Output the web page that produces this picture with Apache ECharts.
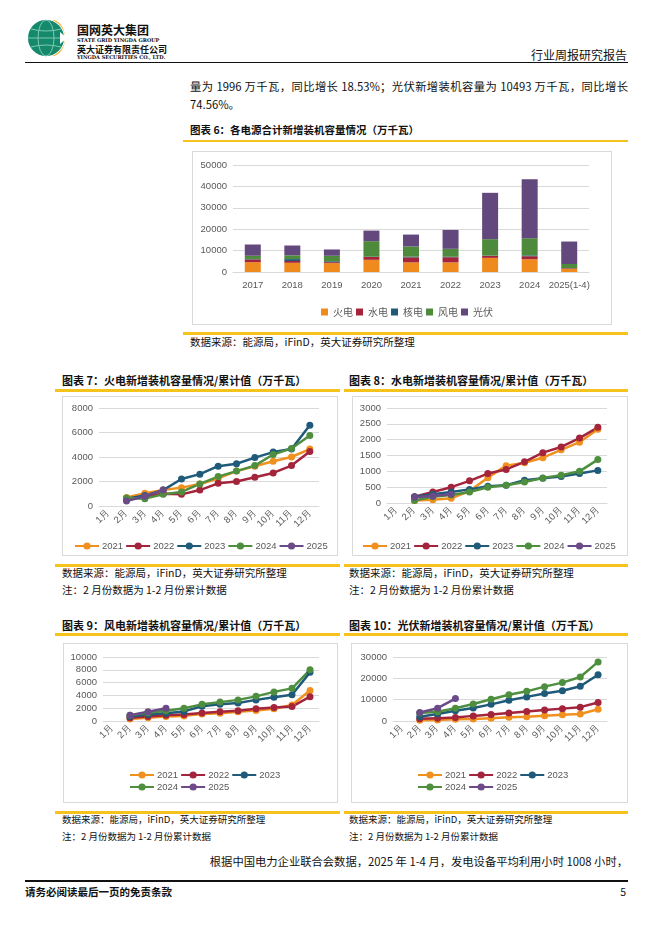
<!DOCTYPE html>
<html><head><meta charset="utf-8">
<script src="https://cdn.jsdelivr.net/npm/echarts@6/dist/echarts.min.js"></script>
<style>
body{margin:0;width:662px;height:936px;position:relative;background:#fff;font-family:"Noto Sans CJK SC",sans-serif;color:#111;overflow:hidden}
.a{position:absolute;white-space:nowrap;line-height:1}
.b{font-weight:bold}
.yl{position:absolute;height:2.5px;background:#F6C21C}
.box{position:absolute;border:1px solid #d9d9d9;box-sizing:border-box}
</style></head><body>

<svg class="a" style="left:26px;top:17px" width="46" height="42" viewBox="0 0 46 42">
 <path d="M26 3 A19 19 0 0 1 26 39 A13 18 0 0 0 26 3Z" fill="#F5A81F"/>
 <circle cx="20" cy="21" r="18" fill="#14896c"/>
 <ellipse cx="20" cy="21" rx="8" ry="18" fill="none" stroke="#7fc9b2" stroke-width="1"/>
 <line x1="2" y1="21" x2="38" y2="21" stroke="#7fc9b2" stroke-width="1"/>
 <path d="M5 12 Q20 16 35 12 M5 30 Q20 26 35 30" fill="none" stroke="#7fc9b2" stroke-width="1"/>
 <path d="M34 15 l7 6 l-7 6z" fill="#fff"/>
</svg>
<div class="a b" style="left:77px;top:24px;font-size:12px">国网英大集团</div>
<div class="a b" style="left:77px;top:37.5px;font-size:5px;font-family:'DejaVu Serif',serif">STATE GRID YINGDA GROUP</div>
<div class="a b" style="left:77px;top:44.5px;font-size:9px">英大证券有限责任公司</div>
<div class="a b" style="left:77px;top:54.5px;font-size:5px;font-family:'DejaVu Serif',serif">YINGDA SECURITIES CO., LTD.</div>
<div class="a" style="right:35px;top:49px;font-size:12px">行业周报研究报告</div>
<div class="a" style="left:25px;top:61.5px;width:603px;height:1.5px;background:#111"></div>

<div class="a" style="left:190px;top:81px;width:438px;font-size:11.3px;text-align:justify;text-align-last:justify;white-space:normal">量为 1996 万千瓦，同比增长 18.53%；光伏新增装机容量为 10493 万千瓦，同比增长</div>
<div class="a" style="left:190px;top:99px;font-size:11.3px">74.56%。</div>

<div class="a b" style="left:190px;top:124.5px;font-size:10.5px">图表 6：各电源合计新增装机容量情况（万千瓦）</div>
<div class="yl" style="left:183px;top:139.5px;width:445px"></div>
<div id="c6" class="box" style="left:192px;top:151px;width:420px;height:174px"></div>
<div class="yl" style="left:183px;top:332px;width:445px"></div>
<div class="a" style="left:190px;top:336.5px;font-size:10.5px">数据来源：能源局，iFinD，英大证券研究所整理</div>

<div class="a b" style="left:62px;top:374.5px;font-size:11px">图表 7：火电新增装机容量情况/累计值（万千瓦）</div>
<div class="a b" style="left:349px;top:374.5px;font-size:11px">图表 8：水电新增装机容量情况/累计值（万千瓦）</div>
<div class="yl" style="left:55px;top:389px;width:285px"></div>
<div class="yl" style="left:344px;top:389px;width:284px"></div>
<div id="c7" class="box" style="left:62px;top:396px;width:276px;height:160px"></div>
<div id="c8" class="box" style="left:352px;top:396px;width:276px;height:160px"></div>
<div class="yl" style="left:55px;top:564px;width:285px"></div>
<div class="yl" style="left:344px;top:564px;width:284px"></div>
<div class="a" style="left:62px;top:567.5px;font-size:10.5px">数据来源：能源局，iFinD，英大证券研究所整理</div>
<div class="a" style="left:62px;top:584.5px;font-size:10.5px">注：2 月份数据为 1-2 月份累计数据</div>
<div class="a" style="left:349px;top:567.5px;font-size:10.5px">数据来源：能源局，iFinD，英大证券研究所整理</div>
<div class="a" style="left:349px;top:584.5px;font-size:10.5px">注：2 月份数据为 1-2 月份累计数据</div>

<div class="a b" style="left:62px;top:619.5px;font-size:11px">图表 9：风电新增装机容量情况/累计值（万千瓦）</div>
<div class="a b" style="left:349px;top:619.5px;font-size:11px">图表 10：光伏新增装机容量情况/累计值（万千瓦）</div>
<div class="yl" style="left:55px;top:633px;width:285px"></div>
<div class="yl" style="left:344px;top:633px;width:284px"></div>
<div id="c9" class="box" style="left:63px;top:643px;width:275px;height:160px"></div>
<div id="c10" class="box" style="left:351px;top:643px;width:277px;height:160px"></div>
<div class="yl" style="left:55px;top:811px;width:285px"></div>
<div class="yl" style="left:344px;top:811px;width:284px"></div>
<div class="a" style="left:62px;top:815px;font-size:9.5px">数据来源：能源局，iFinD，英大证券研究所整理</div>
<div class="a" style="left:62px;top:832px;font-size:9.5px">注：2 月份数据为 1-2 月份累计数据</div>
<div class="a" style="left:349px;top:815px;font-size:9.5px">数据来源：能源局，iFinD，英大证券研究所整理</div>
<div class="a" style="left:349px;top:832px;font-size:9.5px">注：2 月份数据为 1-2 月份累计数据</div>

<div class="a" style="right:34px;top:856px;font-size:11.3px">根据中国电力企业联合会数据，2025 年 1-4 月，发电设备平均利用小时 1008 小时，</div>
<div class="a" style="left:25px;top:880px;width:603px;height:1.5px;background:#111"></div>
<div class="a b" style="left:25px;top:886.5px;font-size:10.5px">请务必阅读最后一页的免责条款</div>
<div class="a" style="right:36px;top:886.5px;font-size:10.5px">5</div>

<script>
// ---- Chart 6 data ----
const years6 = ['2017','2018','2019','2020','2021','2022','2023','2024','2025(1-4)'];
const sources6 = ['火电','水电','核电','风电','光伏'];
const thermal6 = [4600, 4300, 4150, 5700, 4500, 4500, 6600, 6000, 1450];
const hydro6   = [1280, 850, 450, 1320, 2350, 2390, 940, 1380, 300];
const nuclear6 = [220, 880, 410, 110, 340, 230, 140, 400, 0];
const wind6    = [1500, 1750, 2580, 7270, 4730, 3720, 7650, 8010, 1996];
const solar6   = [5250, 4600, 2940, 4950, 5570, 8820, 21670, 27550, 10493];

// ---- Monthly cumulative data ----
const months = ['1月','2月','3月','4月','5月','6月','7月','8月','9月','10月','11月','12月'];
const lineYears = ['2021','2022','2023','2024','2025'];

const thermal2021 = [null, 700, 1050, 1300, 1500, 1800, 2250, 2850, 3250, 3650, 4000, 4650];
const thermal2022 = [null, 550, 800, 1000, 950, 1300, 1850, 2000, 2350, 2700, 3300, 4450];
const thermal2023 = [null, 600, 850, 1300, 2200, 2600, 3250, 3450, 3950, 4400, 4650, 6600];
const thermal2024 = [null, 650, 600, 950, 1150, 1800, 2400, 2850, 3300, 4200, 4700, 5750];
const thermal2025 = [null, 400, 800, 1300];

const hydro2021 = [null, 80, 100, 150, 380, 800, 1180, 1270, 1430, 1680, 1920, 2330];
const hydro2022 = [null, 200, 350, 500, 700, 930, 1060, 1300, 1590, 1770, 2050, 2390];
const hydro2023 = [null, 200, 280, 350, 430, 530, 560, 720, 780, 840, 930, 1030];
const hydro2024 = [null, 80, 200, 250, 350, 500, 560, 660, 790, 880, 1000, 1370];
const hydro2025 = [null, 180, 220, 280];

const wind2021 = [null, 300, 500, 700, 800, 1100, 1200, 1450, 1650, 1900, 2500, 4750];
const wind2022 = [null, 500, 700, 900, 1000, 1250, 1450, 1600, 1900, 2100, 2250, 3800];
const wind2023 = [null, 700, 1000, 1200, 1500, 2300, 2600, 2800, 3300, 3700, 4100, 7600];
const wind2024 = [null, 900, 1300, 1600, 2000, 2600, 2950, 3300, 3850, 4550, 5100, 8000];
const wind2025 = [null, 900, 1450, 2000];

const solar2021 = [null, 300, 500, 800, 900, 1300, 1700, 2000, 2500, 2900, 3300, 5500];
const solar2022 = [null, 1000, 1300, 1600, 2400, 3000, 3700, 4400, 5200, 5800, 6500, 8700];
const solar2023 = [null, 2000, 3300, 4800, 6100, 7800, 9700, 11300, 12900, 14200, 16300, 21700];
const solar2024 = [null, 3700, 4300, 6000, 8000, 10200, 12300, 13900, 16100, 18000, 20600, 27700];
const solar2025 = [null, 4000, 6000, 10500];

const barColors = ['#EE8A1E','#A3243B','#1F5A7A','#4E8A3C','#63487D'];
const lineColors = ['#F0901E','#A3243B','#1F5A7A','#4E8F3F','#6A4A87'];
const axisFont = 'Liberation Sans, Arial, sans-serif';
const gray = '#595959';
const plain = v => String(v);

// Chart 6
const c6 = echarts.init(document.getElementById('c6'));
const vals6 = [thermal6, hydro6, nuclear6, wind6, solar6];
c6.setOption({
  animation:false,
  grid:{left:40,right:22,top:13,bottom:52},
  legend:{left:123,top:150,icon:'rect',itemWidth:7,itemHeight:7,itemGap:3,
    textStyle:{fontSize:10,color:gray,fontFamily:'Noto Sans CJK SC'},data:sources6},
  xAxis:{type:'category',data:years6,axisLine:{lineStyle:{color:'#d9d9d9'}},axisTick:{show:false},
    axisLabel:{color:gray,fontSize:9.5,margin:8,fontFamily:axisFont,interval:0}},
  yAxis:{type:'value',min:0,max:50000,interval:10000,axisLine:{show:false},axisTick:{show:false},
    axisLabel:{color:gray,fontSize:9.5,margin:6,fontFamily:axisFont,formatter:plain},splitLine:{lineStyle:{color:'#d9d9d9'}}},
  series:sources6.map((n,i)=>({name:n,type:'bar',stack:'total',data:vals6[i],barWidth:16,itemStyle:{color:barColors[i]}}))
});

function lineChart(id, data, max, interval, g, lg){
  const ch = echarts.init(document.getElementById(id));
  ch.setOption({
    animation:false,
    grid:{left:g[0],right:g[1],top:g[2],bottom:g[3]},
    legend:{left:lg[0],top:lg[1],width:lg[2],itemWidth:24,itemHeight:9,itemGap:2,
      textStyle:{fontSize:9.5,color:gray,fontFamily:axisFont,padding:[0,0,0,-2]},data:lineYears},
    xAxis:{type:'category',data:months,boundaryGap:true,axisLine:{lineStyle:{color:'#d9d9d9'}},axisTick:{show:false},
      axisLabel:{rotate:45,color:gray,fontSize:9.5,margin:5,fontFamily:axisFont,interval:0}},
    yAxis:{type:'value',min:0,max:max,interval:interval,axisLine:{show:false},axisTick:{show:false},
      axisLabel:{color:gray,fontSize:9.5,margin:6,fontFamily:axisFont,formatter:plain},splitLine:{lineStyle:{color:'#d9d9d9'}}},
    series:lineYears.map((y,i)=>({name:y,type:'line',data:data[i],symbol:'circle',symbolSize:7,
      lineStyle:{width:2.5,color:lineColors[i]},itemStyle:{color:lineColors[i]}}))
  });
}
lineChart('c7',[thermal2021,thermal2022,thermal2023,thermal2024,thermal2025],8000,2000,[36,18,11,49],[6,139,300]);
lineChart('c8',[hydro2021,hydro2022,hydro2023,hydro2024,hydro2025],3000,500,[34,20,11,52],[4,139,300]);
lineChart('c9',[wind2021,wind2022,wind2023,wind2024,wind2025],10000,2000,[39,18,13,81],[60,121,175]);
lineChart('c10',[solar2021,solar2022,solar2023,solar2024,solar2025],30000,10000,[41,20,13,81],[60,121,175]);
</script>
</body></html>
